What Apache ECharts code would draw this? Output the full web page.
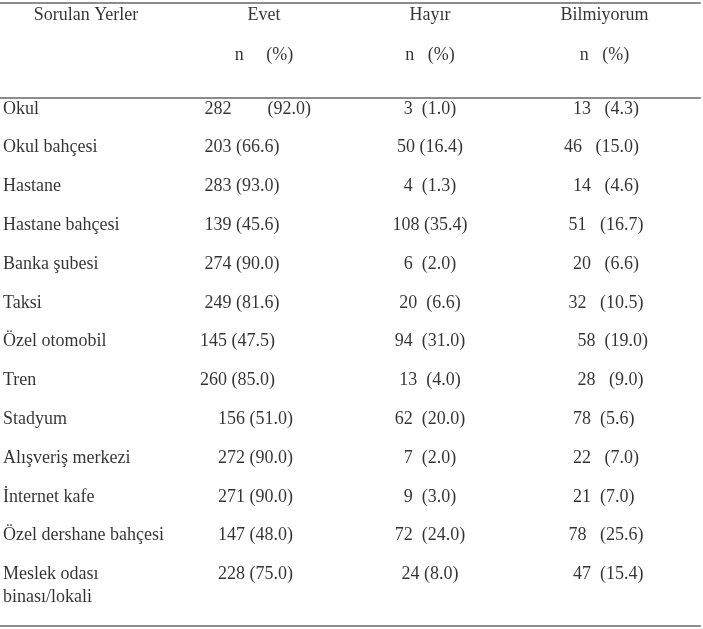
<!DOCTYPE html>
<html>
<head>
<meta charset="utf-8">
<script src="https://cdn.jsdelivr.net/npm/echarts@6/dist/echarts.min.js"></script>
<style>
  html, body { margin: 0; padding: 0; background: #fff; }
  #main { width: 703px; height: 629px; }
</style>
</head>
<body>
<div id="main"></div>
<script>
// table content
const columns = ['Sorulan Yerler', 'Evet', 'Hayır', 'Bilmiyorum'];
const subHeaders = ['', 'n     (%)', 'n   (%)', 'n   (%)'];

const places = [
    'Okul', 'Okul bahçesi', 'Hastane', 'Hastane bahçesi', 'Banka şubesi', 'Taksi',
    'Özel otomobil', 'Tren', 'Stadyum', 'Alışveriş merkezi', 'İnternet kafe',
    'Özel dershane bahçesi', 'Meslek odası\nbinası/lokali'
];
const evet = [
    ' 282        (92.0)', ' 203 (66.6)', ' 283 (93.0)', ' 139 (45.6)', ' 274 (90.0)', ' 249 (81.6)',
    '145 (47.5)', '260 (85.0)', '    156 (51.0)', '    272 (90.0)', '    271 (90.0)',
    '    147 (48.0)', '    228 (75.0)'
];
const hayir = [
    '3  (1.0)', '50 (16.4)', '4  (1.3)', '108 (35.4)', '6  (2.0)', '20  (6.6)',
    '94  (31.0)', '13  (4.0)', '62  (20.0)', '7  (2.0)', '9  (3.0)',
    '72  (24.0)', '24 (8.0)'
];
const bilmiyorum = [
    '  13   (4.3)', '46   (15.0)', '  14   (4.6)', ' 51   (16.7)', '  20   (6.6)', ' 32   (10.5)',
    '   58  (19.0)', '   28   (9.0)', '  78  (5.6)', '  22   (7.0)', '  21  (7.0)',
    ' 78   (25.6)', '  47  (15.4)'
];
const bodyColumns = [places, evet, hayir, bilmiyorum];

const fontFamily = "'Liberation Serif', 'DejaVu Serif', serif";
const lineStyle = {color: '#8c8c8c', width: 2};

// label placement per column (offset from the category band centre)
const headerDx = [-1.5, 1.5, -7.5, -8];
const bodyLabel = [
    {align: 'left', verticalAlign: 'top', offset: [-84.5, -11.5]},
    {align: 'left', verticalAlign: 'middle', offset: [-62.5, 0]},
    {align: 'center', verticalAlign: 'middle', offset: [-7.5, 0]},
    {align: 'left', verticalAlign: 'middle', offset: [-48.5, 0]}
];

function textSeries(xIdx, yIdx, data, label) {
    return {
        type: 'scatter',
        xAxisIndex: xIdx,
        yAxisIndex: yIdx,
        symbolSize: 1,
        silent: true,
        itemStyle: {color: 'rgba(0,0,0,0)'},
        label: Object.assign({
            show: true,
            position: 'inside',
            color: '#000',
            fontFamily: fontFamily,
            fontSize: 18,
            lineHeight: 23,
            formatter: p => p.name
        }, label),
        emphasis: {disabled: true},
        data: data
    };
}

const series = [];
columns.forEach((col, c) => {
    series.push(textSeries(0, 0, [
        {name: col, value: [c, 0]},
        {name: subHeaders[c], value: [c, 1]}
    ], {align: 'center', verticalAlign: 'middle', offset: [headerDx[c], 0]}));
    series.push(textSeries(1, 1,
        bodyColumns[c].map((t, i) => ({name: t, value: [c, i]})),
        bodyLabel[c]));
});

function catAxis(gridIndex, position) {
    return {
        type: 'category',
        gridIndex: gridIndex,
        position: position,
        data: columns,
        boundaryGap: true,
        axisLine: {show: true, onZero: false, lineStyle: lineStyle},
        axisTick: {show: false},
        axisLabel: {show: false},
        splitLine: {show: false}
    };
}

var myChart = echarts.init(document.getElementById('main'));
var option = {
    animation: false,
    backgroundColor: '#fff',
    grid: [
        {left: 0, right: 3, top: 3, height: 95},
        {left: 0, right: 3, top: 98, bottom: 3}
    ],
    xAxis: [
        catAxis(0, 'top'),
        catAxis(1, 'top'),
        catAxis(1, 'bottom')
    ],
    yAxis: [
        {type: 'value', gridIndex: 0, min: -0.3, max: 2.075, inverse: true, show: false},
        {type: 'value', gridIndex: 1, min: -0.28, max: 13.33, inverse: true, show: false}
    ],
    series: series
};
myChart.setOption(option, true);
</script>
</body>
</html>
